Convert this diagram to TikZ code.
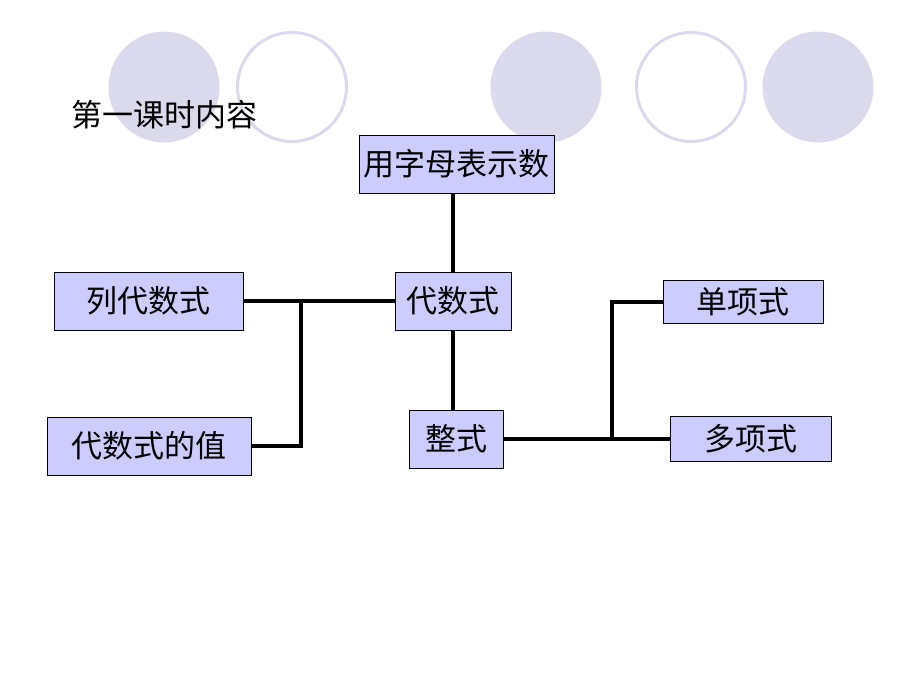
\documentclass[tikz,border=0pt]{standalone}
\usepackage{fontspec}
\setmainfont{Noto Sans CJK SC}
\definecolor{deco}{RGB}{218,218,236}
\definecolor{boxfill}{RGB}{204,204,255}
\begin{document}
\begin{tikzpicture}[x=1pt,y=-1pt,
  box/.style={draw=black,line width=0.9pt,fill=boxfill,inner sep=0pt,font=\fontsize{31}{34}\selectfont},
  conn/.style={line width=3.5pt,black},
  dot/.style={fill=deco},
  ring/.style={draw=deco,line width=3pt}]
\useasboundingbox[fill=white] (0,0) rectangle (920,690);
% decorative circles
\fill[dot] (164,87) circle (55.5);
\draw[ring] (292,87) circle (54.5);
\fill[dot] (546,87) circle (55.5);
\draw[ring] (691,87) circle (54.5);
\fill[dot] (818,87) circle (55.5);
% title
\node[anchor=west,inner sep=0pt,font=\fontsize{31}{34}\selectfont] (title) at (71,115) {第一课时内容};
% boxes
\node[box,minimum width=195pt,minimum height=58pt] (yzm) at (456.5,164) {用字母表示数};
\node[box,minimum width=116pt,minimum height=58pt] (dsh) at (453,301) {代数式};
\node[box,minimum width=189pt,minimum height=58pt] (lie) at (148.5,301) {列代数式};
\node[box,minimum width=204pt,minimum height=58pt] (zhi) at (149,446) {代数式的值};
\node[box,minimum width=94pt,minimum height=58pt] (zs) at (456,439) {整式};
\node[box,minimum width=160pt,minimum height=43pt] (dan) at (743,302) {单项式};
\node[box,minimum width=161pt,minimum height=45pt] (duo) at (750.5,439) {多项式};
% junctions
\coordinate (j1) at (301,301);
\coordinate (j2) at (612,439);
% connectors
\draw[conn] (dsh.north |- yzm.south) -- (dsh.north);
\draw[conn] (lie.east) -- (dsh.west);
\draw[conn] (zhi.east) -| (j1);
\draw[conn] (dsh.south) -- (dsh.south |- zs.north);
\draw[conn] (zs.east) -- (duo.west);
\draw[conn] (dan.west) -| (j2);
\end{tikzpicture}
\end{document}
